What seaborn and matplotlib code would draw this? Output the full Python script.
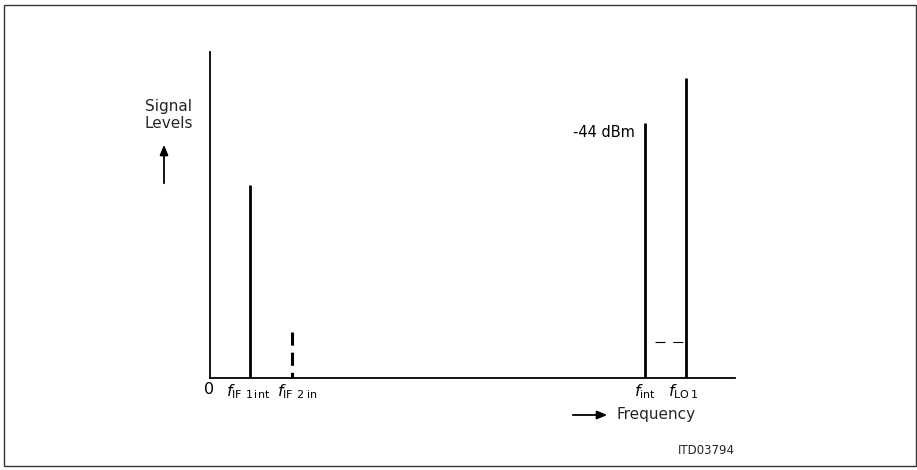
import matplotlib
matplotlib.use("Agg")
import matplotlib.pyplot as plt
import seaborn as sns
from matplotlib.patches import Rectangle, FancyArrowPatch

# Data (arbitrary units)
solid_freq = [7.6, 82.9, 90.7]
solid_level = [59.2, 78.2, 92.0]
dashed_freq = [15.6]
dashed_level = [14.1]
gap_freq = [84.8, 90.7]
gap_level = 11.0
tick_freq = [-0.2, 7.3, 16.6, 82.9, 90.2]
tick_text = ["0", r"$f_{\mathrm{IF\ 1\,int}}$", r"$f_{\mathrm{IF\ 2\ in}}$",
             r"$f_{\mathrm{int}}$", r"$f_{\mathrm{LO\,1}}$"]

sns.set_theme(style="white")
plt.rcParams['font.family'] = ['DejaVu Sans']
plt.rcParams['mathtext.fontset'] = 'dejavusans'

W, H = 917, 470
fig = plt.figure(figsize=(W / 100, H / 100), dpi=100)
ax = fig.add_axes([210 / W, 1 - 378 / H, (735 - 210) / W, (378 - 52) / H])
ax.set_xlim(0, 100)
ax.set_ylim(0, 100)

ax.vlines(solid_freq, 0, solid_level, colors="black", linewidth=2.0)
for f, lv in zip(dashed_freq, dashed_level):
    ax.plot([f, f], [lv, 0], color="black", linewidth=2.2,
            linestyle=(0, (4.3, 2.3)), solid_capstyle="butt")
ax.hlines(gap_level, gap_freq[0], gap_freq[1], colors="black", linewidth=0.8,
          linestyles=(0, (9, 7)))

sns.despine(ax=ax, top=True, right=True)
for s in ["left", "bottom"]:
    ax.spines[s].set_color("black")
    ax.spines[s].set_linewidth(1.3)
ax.set_xticks([])
ax.set_yticks([])

for f, t in zip(tick_freq, tick_text):
    ax.text(f, -1.2, t, ha="center", va="top", fontsize=11.5, color="black")

ax.text(solid_freq[1] - 2.0, solid_level[1] - 3.0, "-44 dBm", ha="right", va="center",
        fontsize=10.5, color="black")

# Y label with arrow
fig.text(145 / W, 1 - 115 / H, "Signal\nLevels", ha="left", va="center", fontsize=11,
         linespacing=1.25)
fig.add_artist(FancyArrowPatch(
    (164 / W, 1 - 186 / H), (164 / W, 1 - 142 / H), transform=fig.transFigure,
    arrowstyle="-|>,head_length=6,head_width=2.5", color="black", linewidth=1.3))

# X label with arrow
fig.add_artist(FancyArrowPatch(
    (570 / W, 1 - 415 / H), (610 / W, 1 - 415 / H), transform=fig.transFigure,
    arrowstyle="-|>,head_length=6,head_width=2.5", color="black", linewidth=1.3))
fig.text(616 / W, 1 - 415 / H, "Frequency", ha="left", va="center", fontsize=11)

fig.text(678 / W, 1 - 450 / H, "ITD03794", ha="left", va="center", fontsize=8.5)

fig.add_artist(Rectangle((3.5 / W, 1 - 466 / H), (915.5 - 3.5) / W, (466 - 5) / H,
                         transform=fig.transFigure, fill=False, edgecolor="#333333",
                         linewidth=1))

fig.savefig("out.png", dpi=100)
